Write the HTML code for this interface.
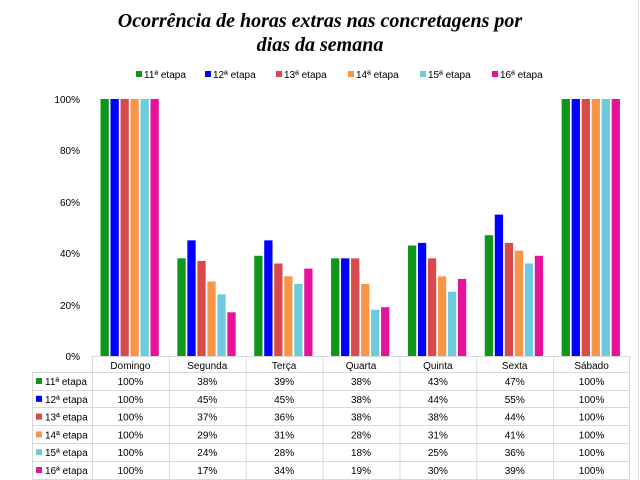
<!DOCTYPE html>
<html><head><meta charset="utf-8"><style>
html,body{margin:0;padding:0;background:#fff;}
svg{display:block;}
text{font-family:"Liberation Sans",sans-serif;}
</style></head><body>
<svg width="640" height="480" xmlns="http://www.w3.org/2000/svg">
<rect width="640" height="480" fill="#fff"/>
<line x1="638.5" y1="0" x2="638.5" y2="480" stroke="#d9d9d9"/>
<text x="320" y="27" text-anchor="middle" font-style="italic" font-weight="bold" font-size="20" fill="#000" style="font-family:'Liberation Serif',serif">Ocorrência de horas extras nas concretagens por</text>
<text x="320" y="51" text-anchor="middle" font-style="italic" font-weight="bold" font-size="20" fill="#000" style="font-family:'Liberation Serif',serif">dias da semana</text>
<g font-size="10" fill="#000">
<rect x="136" y="71" width="6" height="6" fill="#109618"/><text x="144" y="78">11ª etapa</text>
<rect x="205" y="71" width="6" height="6" fill="#0000ff"/><text x="213" y="78">12ª etapa</text>
<rect x="276" y="71" width="6" height="6" fill="#d94a4a"/><text x="284" y="78">13ª etapa</text>
<rect x="348" y="71" width="6" height="6" fill="#f79646"/><text x="356" y="78">14ª etapa</text>
<rect x="420" y="71" width="6" height="6" fill="#6ccbdc"/><text x="428" y="78">15ª etapa</text>
<rect x="492" y="71" width="6" height="6" fill="#e6129a"/><text x="500" y="78">16ª etapa</text>
</g>
<g font-size="10" fill="#000" text-anchor="end">
<text x="80" y="103">100%</text><text x="80" y="154">80%</text><text x="80" y="206">60%</text><text x="80" y="257">40%</text><text x="80" y="309">20%</text><text x="80" y="360">0%</text>
</g>
<g id="bars"></g>
<g stroke="#d9d9d9" stroke-width="1">
<line x1="92" y1="356.5" x2="630" y2="356.5"/>
<line x1="32" y1="372.5" x2="630" y2="372.5"/>
<line x1="32" y1="390.5" x2="630" y2="390.5"/>
<line x1="32" y1="407.5" x2="630" y2="407.5"/>
<line x1="32" y1="425.5" x2="630" y2="425.5"/>
<line x1="32" y1="443.5" x2="630" y2="443.5"/>
<line x1="32" y1="461.5" x2="630" y2="461.5"/>
<line x1="32" y1="479.5" x2="630" y2="479.5"/>
<line x1="32.5" y1="372" x2="32.5" y2="480"/>
</g>
<g id="tbl" font-size="10" fill="#000"></g>
<script>
var cols=["#109618","#0000ff","#d94a4a","#f79646","#6ccbdc","#e6129a"];
var days=["Domingo","Segunda","Terça","Quarta","Quinta","Sexta","Sábado"];
var d=[[100,38,39,38,43,47,100],[100,45,45,38,44,55,100],[100,37,36,38,38,44,100],[100,29,31,28,31,41,100],[100,24,28,18,25,36,100],[100,17,34,19,30,39,100]];
var NS="http://www.w3.org/2000/svg";
var b=document.getElementById("bars"),t=document.getElementById("tbl");
function el(p,n,a,txt){var e=document.createElementNS(NS,n);for(var k in a)e.setAttribute(k,a[k]);if(txt)e.textContent=txt;p.appendChild(e);return e;}
var cw=538/7;
for(var c=0;c<7;c++){var x0=92+c*cw;
 for(var s=0;s<6;s++){var h=d[s][c]*2.57;el(b,"rect",{x:x0+8.5+s*10,y:356-h,width:8.3,height:h,fill:cols[s]});}
 el(t,"line",{x1:x0+0.5,y1:356,x2:x0+0.5,y2:480,stroke:"#d9d9d9"});
 el(t,"text",{x:x0+cw/2,y:369,"text-anchor":"middle"},days[c]);
 for(var s=0;s<6;s++)el(t,"text",{x:x0+cw/2,y:385+s*17.8,"text-anchor":"middle"},d[s][c]+"%");
}
el(t,"line",{x1:629.5,y1:356,x2:629.5,y2:480,stroke:"#d9d9d9"});
for(var s=0;s<6;s++){el(t,"rect",{x:36,y:378+s*17.8,width:6,height:6,fill:cols[s]});el(t,"text",{x:45,y:385+s*17.8},(11+s)+"ª etapa");}
</script>
</svg>
</body></html>
